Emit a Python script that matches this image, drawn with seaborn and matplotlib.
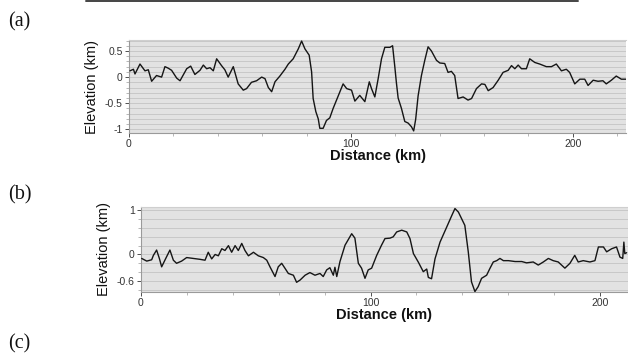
import matplotlib
matplotlib.use("Agg")
import matplotlib.pyplot as plt
import seaborn as sns
import numpy as np
from matplotlib.lines import Line2D
from matplotlib.ticker import MultipleLocator, FixedLocator

sns.set_theme(style="white")
plt.rcParams['font.family'] = ['Liberation Sans', 'DejaVu Sans']

# ---- panel (a) profile ----
dist_a = [0.45, 2.0, 2.7, 4.95, 7.2, 8.7, 10.2, 12.4, 14.7, 16.2, 17.7, 19.2, 21.5, 23.0,
          26.0, 27.8, 29.7, 32.0, 33.5, 35.0, 36.5, 38.0, 39.5, 41.7, 43.2, 44.7, 47.0,
          49.2, 51.5, 53.0, 55.2, 57.5, 59.8, 61.3, 62.8, 64.3, 65.8, 68.0, 70.3, 71.8,
          74.0, 76.3, 77.8, 79.3, 81.2, 82.3, 83.0, 84.2, 85.3, 86.0, 87.5, 89.0, 90.5,
          92.0, 94.3, 96.5, 98.1, 100.3, 101.8, 104.0, 106.3, 108.3, 109.3, 110.8, 112.3,
          113.8, 115.3, 117.6, 118.8, 119.8, 120.5, 121.3, 122.8, 124.3, 125.8, 127.3,
          128.3, 129.2, 130.3, 131.8, 133.3, 134.8, 136.3, 138.6, 140.1, 142.3, 143.8,
          145.3, 146.8, 148.3, 150.6, 152.8, 154.4, 156.6, 158.9, 160.4, 161.9, 164.1,
          166.4, 168.6, 170.9, 172.4, 173.9, 175.4, 176.9, 179.1, 180.6, 182.9, 185.1,
          188.1, 190.4, 192.6, 194.9, 197.1, 198.6, 200.9, 203.2, 205.4, 206.9, 209.2,
          211.4, 213.6, 215.1, 217.4, 219.6, 221.9, 224.1]
elev_a = [0.12, 0.15, 0.06, 0.25, 0.12, 0.14, -0.08, 0.03, 0.0, 0.2, 0.17, 0.13, -0.02, -0.07,
          0.16, 0.21, 0.05, 0.13, 0.23, 0.16, 0.18, 0.12, 0.35, 0.22, 0.14, 0.0, 0.2,
          -0.13, -0.25, -0.22, -0.1, -0.07, 0.0, -0.03, -0.2, -0.28, -0.09, 0.02, 0.15, 0.25,
          0.35, 0.54, 0.69, 0.54, 0.42, 0.1, -0.41, -0.66, -0.8, -0.98, -0.98, -0.83, -0.78,
          -0.6, -0.36, -0.13, -0.22, -0.25, -0.46, -0.35, -0.47, -0.09, -0.22, -0.38, -0.03,
          0.35, 0.57, 0.57, 0.6, 0.2, -0.1, -0.4, -0.6, -0.85, -0.88, -0.95,
          -1.03, -0.81, -0.36, 0.03, 0.32, 0.58, 0.5, 0.32, 0.27, 0.26, 0.09,
          0.11, 0.03, -0.41, -0.38, -0.44, -0.41, -0.22, -0.13, -0.14, -0.26, -0.2,
          -0.06, 0.09, 0.13, 0.22, 0.16, 0.23, 0.16, 0.16, 0.35, 0.28, 0.25,
          0.2, 0.2, 0.25, 0.12, 0.15, 0.09, -0.13, -0.04, -0.04, -0.16, -0.06,
          -0.08, -0.07, -0.13, -0.06, 0.02, -0.04, -0.04]

# ---- panel (b) profile ----
dist_b = [0.3, 2.5, 4.65, 5.4, 6.8, 8.0, 9.0, 10.5, 12.6, 14.1, 15.5, 17.7, 19.9, 22.8,
          25.7, 27.9, 29.3, 30.8, 32.3, 33.7, 35.2, 36.6, 38.1, 39.5, 41.0, 42.4, 43.9,
          45.3, 46.8, 49.0, 51.1, 53.3, 54.8, 56.2, 58.4, 59.8, 61.3, 62.7, 64.2, 66.4,
          67.8, 69.3, 71.5, 73.6, 75.8, 78.0, 79.4, 80.9, 82.3, 83.8, 84.5, 85.3, 86.7,
          88.9, 91.8, 93.2, 94.7, 96.1, 97.6, 99.0, 100.5, 102.7, 104.8, 106.3, 108.5,
          109.9, 111.4, 113.6, 115.8, 117.2, 118.7, 120.8, 123.0, 124.5, 125.2, 126.6,
          128.1, 130.3, 133.2, 135.4, 136.8, 138.3, 139.7, 141.1, 142.6, 144.0, 145.5,
          146.9, 148.4, 150.6, 152.0, 153.5, 155.0, 156.4, 157.9, 160.1, 163.0, 165.9,
          168.0, 170.9, 173.1, 175.3, 177.5, 179.6, 181.8, 184.7, 186.9, 189.0, 190.5,
          192.7, 195.6, 197.8, 199.3, 201.5, 202.9, 205.1, 207.2, 208.7, 209.9, 210.4,
          210.8, 211.6]
elev_b = [-0.09, -0.15, -0.12, -0.02, 0.1, -0.09, -0.28, -0.12, 0.1, -0.13, -0.2, -0.15, -0.07, -0.09,
          -0.11, -0.13, 0.05, -0.1, 0.0, -0.03, 0.13, 0.09, 0.2, 0.05, 0.2, 0.09, 0.25,
          0.09, -0.03, 0.05, -0.03, -0.07, -0.13, -0.28, -0.5, -0.28, -0.2, -0.31, -0.43, -0.47,
          -0.63, -0.58, -0.47, -0.41, -0.47, -0.43, -0.5, -0.35, -0.3, -0.47, -0.29, -0.5, -0.16,
          0.21, 0.47, 0.37, -0.2, -0.31, -0.54, -0.35, -0.31, -0.02, 0.21, 0.36, 0.37,
          0.4, 0.51, 0.55, 0.51, 0.36, 0.02, -0.17, -0.39, -0.33, -0.52, -0.55,
          -0.1, 0.28, 0.62, 0.88, 1.04, 0.96, 0.81, 0.66, 0.06, -0.62, -0.84,
          -0.73, -0.54, -0.47, -0.32, -0.17, -0.14, -0.09, -0.14, -0.14, -0.16, -0.16,
          -0.19, -0.17, -0.24, -0.17, -0.09, -0.14, -0.17, -0.31, -0.2, -0.02, -0.17,
          -0.14, -0.17, -0.14, 0.17, 0.17, 0.06, 0.13, 0.17, -0.06, -0.09, 0.28,
          0.02, 0.04]

a_yticks = [0.5, 0, -0.5, -1]
a_yticklabels = ["0.5", "0", "-0.5", "-1"]
b_yticks = [1, 0, -0.6]
b_yticklabels = ["1", "0", "-0.6"]
x_ticks = [0, 100, 200]
x_ticklabels = ["0", "100", "200"]

W, H = 628, 356
fig = plt.figure(figsize=(W / 100, H / 100), dpi=100)
fig.patch.set_facecolor("white")


def px_axes(l, t, r, b):
    return fig.add_axes([l / W, 1 - b / H, (r - l) / W, (b - t) / H])


def style(ax, xlim, ylim, grid_step, yticks, yticklabels, yminor):
    ax.set_facecolor("#e2e2e2")
    ax.set_xlim(*xlim)
    ax.set_ylim(*ylim)
    ax.yaxis.set_major_locator(FixedLocator(yticks))
    ax.set_yticklabels(yticklabels)
    ax.yaxis.set_minor_locator(MultipleLocator(yminor))
    ax.xaxis.set_major_locator(FixedLocator(x_ticks))
    ax.set_xticklabels(x_ticklabels)
    ax.xaxis.set_minor_locator(MultipleLocator(20))
    for v in np.arange(np.ceil(ylim[0] / grid_step) * grid_step, ylim[1], grid_step):
        ax.axhline(v, color="#c4c4c4", lw=0.6, zorder=0)
    for s in ["left", "bottom", "top"]:
        ax.spines[s].set_color("#9a9a9a")
        ax.spines[s].set_linewidth(0.8)
    ax.spines["top"].set_color("#cfcfcf")
    ax.spines["right"].set_visible(False)
    ax.tick_params(axis="both", which="major", labelsize=7.5, colors="#333333",
                   length=3, width=0.6, direction="out", pad=1.5, left=True, bottom=True)
    ax.tick_params(axis="both", which="minor", length=2, width=0.5, color="#9a9a9a",
                   direction="out", left=True, bottom=True)


# panel (a)
ax1 = px_axes(129, 40, 626, 133)
sns.lineplot(x=dist_a, y=elev_a, ax=ax1, color="#151515", lw=1.0, zorder=3)
style(ax1, (0, 224), (-1.07, 0.71), 0.1, a_yticks, a_yticklabels, 0.1)
ax1.set_xlabel("Distance (km)", fontsize=10.5, fontweight="bold", labelpad=0, color="#111111")
ax1.set_ylabel("Elevation (km)", fontsize=10.5, labelpad=4, color="#111111")

# panel (b)
ax2 = px_axes(141, 207, 628, 292)
sns.lineplot(x=dist_b, y=elev_b, ax=ax2, color="#151515", lw=1.0, zorder=3)
style(ax2, (0, 212.2), (-0.85, 1.075), 0.2, b_yticks, b_yticklabels, 0.2)
ax2.set_xlabel("Distance (km)", fontsize=10.5, fontweight="bold", labelpad=0, color="#111111")
ax2.set_ylabel("Elevation (km)", fontsize=10.5, labelpad=4, color="#111111")

# panel letters
for lab, ypx in [("(a)", 22), ("(b)", 195), ("(c)", 344)]:
    fig.text(8 / W, 1 - ypx / H, lab, fontsize=14.5, family=["Liberation Serif", "DejaVu Serif"],
             va="center", ha="left", color="#111111")

# top border line left over from the figure above
fig.add_artist(Line2D([86 / W, 578 / W], [1 - 1 / H, 1 - 1 / H], color="#444444", lw=1.4))

fig.savefig("out.png", dpi=100, facecolor="white")
